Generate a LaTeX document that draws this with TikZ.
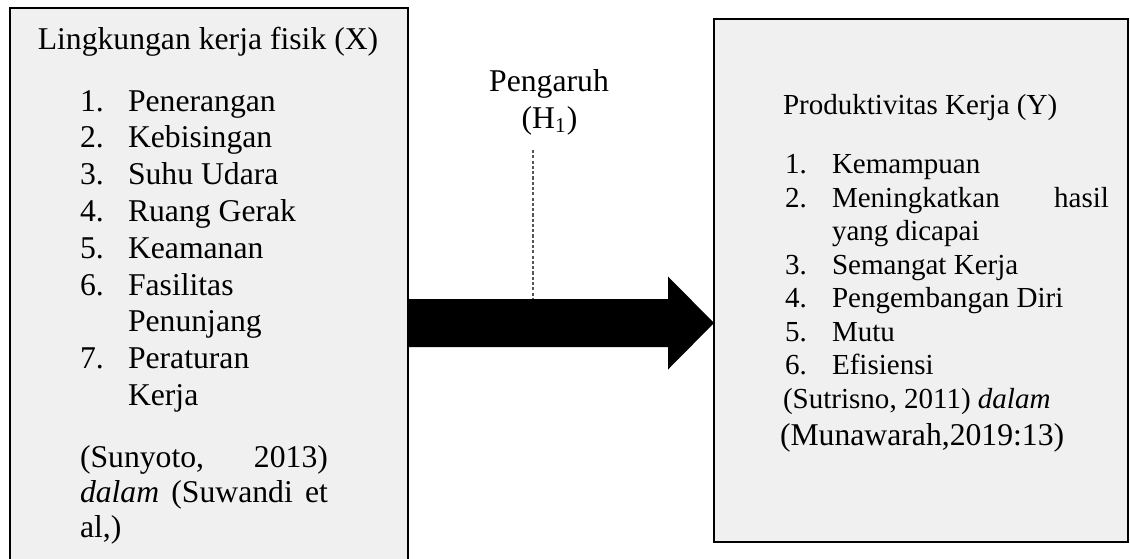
\documentclass[tikz,border=0pt]{standalone}
\usepackage{fontspec}
\setmainfont{Liberation Serif}
\usetikzlibrary{fit,calc}
\definecolor{boxfill}{HTML}{F0F0F0}
\definecolor{dashgray}{HTML}{555555}
\tikzset{
  box/.style={draw=black, fill=boxfill, line width=0.75pt, inner sep=0pt, outer sep=0pt, rectangle},
  txt/.style={anchor=base west, inner sep=0pt, outer sep=0pt, font=\fontsize{12}{14}\selectfont},
  txtc/.style={anchor=base, inner sep=0pt, outer sep=0pt, font=\fontsize{12}{14}\selectfont},
  stxt/.style={anchor=base west, inner sep=0pt, outer sep=0pt, font=\fontsize{11}{13}\selectfont},
  guide/.style={draw=dashgray, line width=0.4pt, dash pattern=on 1.2pt off 0.8pt},
  fatarrow/.style={fill=black, draw=none}
}
\begin{document}
\begin{tikzpicture}[x=0.3788pt,y=-0.3788pt]
\useasboundingbox (0,0) rectangle (1130,558);
\fill[white] (0,0) rectangle (1130,558);
\clip (0,0) rectangle (1130,558);

% boxes
\coordinate (x1) at (10,8);
\coordinate (x2) at (408,638);
\node[box, fit=(x1)(x2)] (X) {};
\coordinate (y1) at (714,19);
\coordinate (y2) at (1128,542);
\node[box, fit=(y1)(y2)] (Y) {};

% left box text
\node[txtc] (xh) at (208,50) {Lingkungan kerja fisik (X)};
\foreach \n/\t/\b in {1/Penerangan/111, 2/Kebisingan/147.8, 3/Suhu Udara/184.6,
  4/Ruang Gerak/221.4, 5/Keamanan/258.2, 6/Fasilitas/295, 7/Peraturan/368.6}{
  \node[txt] (xn\n) at (80,\b) {\n.};
  \node[txt] (xt\n) at (128,\b) {\t};
}
\node[txt] (xt6b) at (128,331.8) {Penunjang};
\node[txt] (xt7b) at (128,405.4) {Kerja};
\node[txt] (xc1) at (80,467) {\makebox[93.9pt][s]{(Sunyoto, 2013)}};
\node[txt] (xc2) at (80,502) {\makebox[93.9pt][s]{\textit{dalam} (Suwandi et}};
\node[txt] (xc3) at (80,537) {al,)};

% right box text
\node[stxt] (yh) at (783,114) {Produktivitas Kerja (Y)};
\foreach \n/\t/\b in {1/Kemampuan/173, 3/Semangat Kerja/274, 4/Pengembangan Diri/307.5,
  5/Mutu/341, 6/Efisiensi/374.5}{
  \node[stxt] (yn\n) at (785,\b) {\n.};
  \node[stxt] (yt\n) at (832,\b) {\t};
}
\node[stxt] (yn2) at (785,207) {2.};
\node[stxt] (yt2) at (832,207) {\makebox[104.9pt][s]{Meningkatkan hasil}};
\node[stxt] (yt2b) at (832,240.5) {yang dicapai};
\node[stxt] (yc1) at (783,408) {(Sutrisno, 2011) \textit{dalam}};
\node[txt] (yc2) at (780,445) {(Munawarah,2019:13)};

% label
\node[txtc] (p1) at (549,91) {Pengaruh};
\node[txtc] (p2) at (549.5,128) {(H\textsubscript{1})};

% arrow
\coordinate (tip) at (Y.west |- X.east);
\coordinate (hb) at ($(tip)+(-46,0)$);
\fill[fatarrow] ($(X.east)+(0,-24)$) -- ($(hb)+(0,-24)$) -- ($(hb)+(0,-46.5)$) -- (tip)
  -- ($(hb)+(0,46.5)$) -- ($(hb)+(0,24)$) -- ($(X.east)+(0,24)$) -- cycle;

% dashed guide
\coordinate (d1) at (533,150);
\coordinate (d2) at (533,299);
\draw[guide] (d1) -- (d2);
\end{tikzpicture}
\end{document}
